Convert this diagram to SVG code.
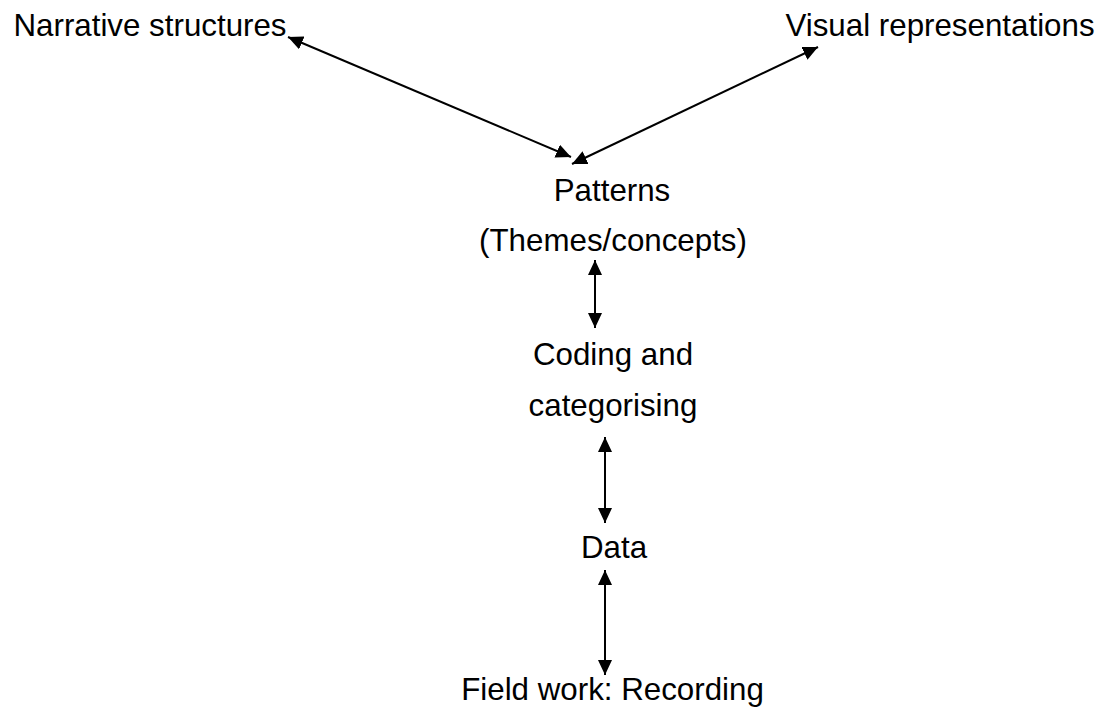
<svg xmlns="http://www.w3.org/2000/svg" width="1099" height="718" viewBox="0 0 1099 718">
  <style>
    text { font-family: "Liberation Sans", Arial, sans-serif; font-size: 31.3px; fill: #000; text-anchor: middle; }
    .conn { stroke: #000; stroke-width: 2; fill: none; marker-start: url(#ah); marker-end: url(#ah); }
  </style>
  <defs>
    <marker id="ah" viewBox="0 0 15 14" refX="15" refY="7" markerWidth="15" markerHeight="14" markerUnits="userSpaceOnUse" orient="auto-start-reverse">
      <path d="M0,0 L15,7 L0,14 z" fill="#000"/>
    </marker>
  </defs>
  <rect width="1099" height="718" fill="#fff"/>
  <g id="connectors">
    <line class="conn" x1="288" y1="37" x2="571" y2="157"/>
    <line class="conn" x1="818" y1="47" x2="572" y2="164"/>
    <line class="conn" x1="595" y1="260" x2="595" y2="328"/>
    <line class="conn" x1="605" y1="437" x2="605" y2="523"/>
    <line class="conn" x1="605" y1="570" x2="605" y2="675"/>
  </g>
  <g id="narrative"><text x="150" y="36">Narrative structures</text></g>
  <g id="visual"><text x="940" y="36">Visual representations</text></g>
  <g id="patterns"><text x="612" y="201">Patterns</text><text x="613" y="251">(Themes/concepts)</text></g>
  <g id="coding"><text x="613" y="365">Coding and</text><text x="613" y="416">categorising</text></g>
  <g id="data"><text x="614" y="558">Data</text></g>
  <g id="fieldwork"><text x="612.5" y="700">Field work: Recording</text></g>
</svg>
